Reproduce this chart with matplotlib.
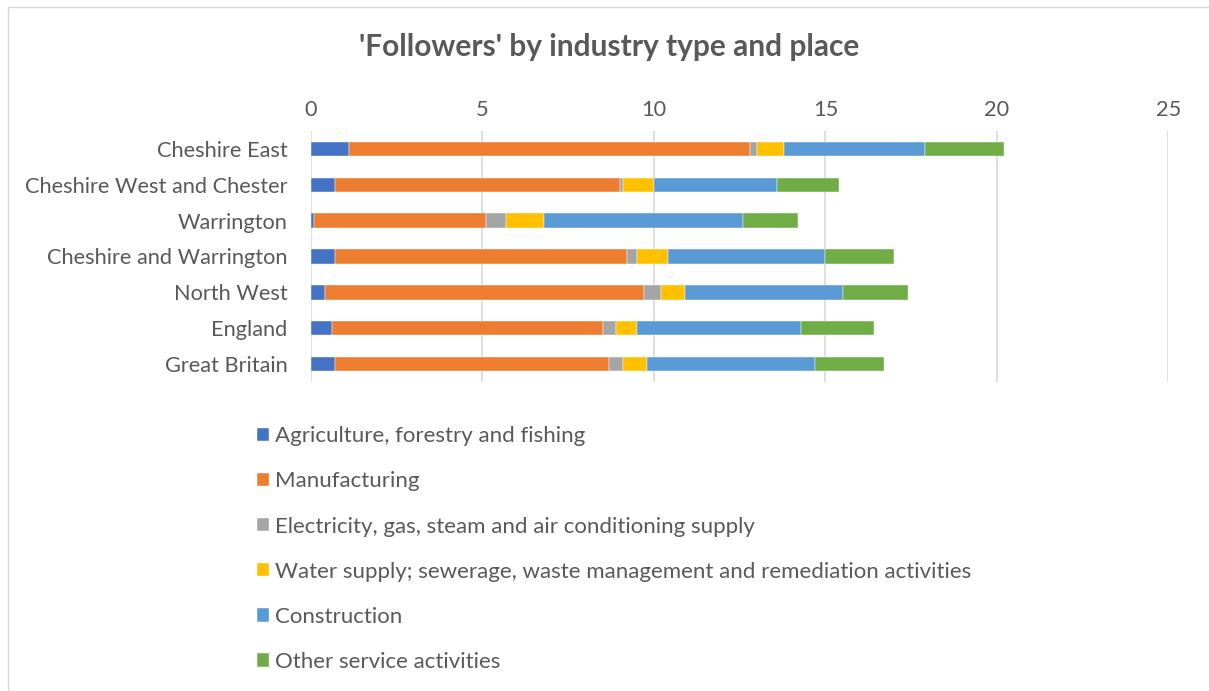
import matplotlib.pyplot as plt
from matplotlib.patches import Rectangle

plt.rcParams['font.family'] = ['Lato', 'DejaVu Sans']

# 数据
places = ['Cheshire East', 'Cheshire West and Chester', 'Warrington',
          'Cheshire and Warrington', 'North West', 'England', 'Great Britain']
agriculture = [1.1, 0.7, 0.1, 0.7, 0.4, 0.6, 0.7]
manufacturing = [11.7, 8.3, 5.0, 8.5, 9.3, 7.9, 8.0]
electricity = [0.2, 0.1, 0.6, 0.3, 0.5, 0.4, 0.4]
water = [0.8, 0.9, 1.1, 0.9, 0.7, 0.6, 0.7]
construction = [4.1, 3.6, 5.8, 4.6, 4.6, 4.8, 4.9]
other = [2.3, 1.8, 1.6, 2.0, 1.9, 2.1, 2.0]

series_names = ['Agriculture, forestry and fishing', 'Manufacturing',
                'Electricity, gas, steam and air conditioning supply',
                'Water supply; sewerage, waste management and remediation activities',
                'Construction', 'Other service activities']
series = [agriculture, manufacturing, electricity, water, construction, other]
colors = ['#4472C4', '#ED7D31', '#A5A5A5', '#FFC000', '#5B9BD5', '#70AD47']

fig = plt.figure(figsize=(12.09, 6.91), dpi=100)
ax = fig.add_axes([0.2572, 0.4472, 0.7093, 0.3632])

# 堆叠条形图
y = list(range(len(places)))
left = [0.0] * len(places)
handles = []
for vals, name, c in zip(series, series_names, colors):
    b = ax.barh(y, vals, left=left, height=0.4, color=c, label=name,
                edgecolor='white', linewidth=0.3)
    handles.append(b)
    left = [l + v for l, v in zip(left, vals)]

ax.set_xlim(0, 25)
ax.set_ylim(len(places) - 0.5, -0.5)
ax.set_yticks(y)
ax.set_yticklabels(places, fontsize=15.7, color='#595959')
ax.set_xticks([0, 5, 10, 15, 20, 25])
ax.xaxis.tick_top()
ax.tick_params(axis='x', labelsize=15.7, colors='#595959', length=0, pad=8)
ax.tick_params(axis='y', length=0, pad=17)
ax.grid(axis='x', color='#D9D9D9', linewidth=1.2)
ax.set_axisbelow(True)
for s in ax.spines.values():
    s.set_visible(False)

fig.text(0.504, 0.932, "'Followers' by industry type and place", ha='center', va='center',
         fontsize=21.5, fontweight='bold', color='#595959')

leg = fig.legend(handles=handles, loc='upper left', bbox_to_anchor=(0.196, 0.412),
                 ncol=1, frameon=False, fontsize=16, labelcolor='#595959',
                 handlelength=0.55, handleheight=0.55, handletextpad=0.25,
                 labelspacing=1.13)

# 外边框
fig.patches.append(Rectangle((0.007, -0.01), 1.0, 1.0, transform=fig.transFigure,
                             fill=False, edgecolor='#D9D9D9', linewidth=1))

plt.savefig('out.png', dpi=100)
